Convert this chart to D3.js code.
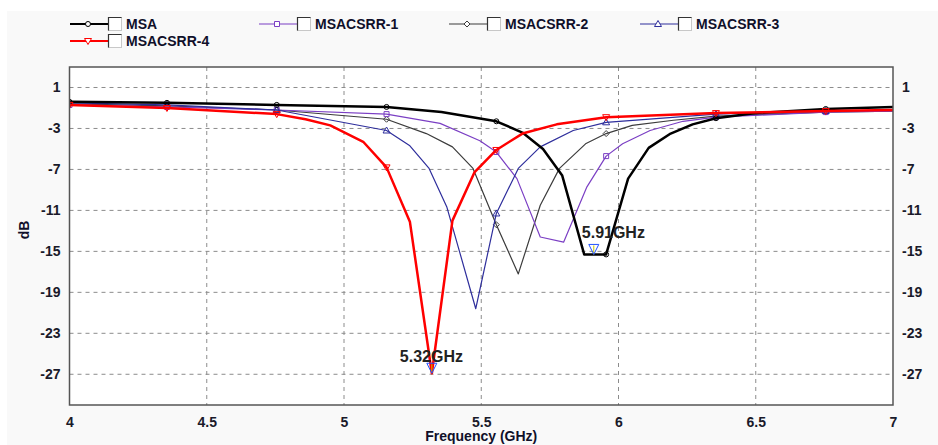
<!DOCTYPE html>
<html>
  <head>
    <meta charset="utf-8">
    <script src="https://d3js.org/d3.v7.min.js"></script>
    <style>
      body { margin: 0; background: #ffffff; }
      svg { font-family: "Liberation Sans", Arial, sans-serif; }
      .axis .tick line { display: none; }
      .axis .domain { display: none; }
      .axis .tick text { font-size: 14px; font-weight: bold; fill: #1a1a2a; }
      .grid line { stroke: #8c8c8c; stroke-dasharray: 4,4; stroke-width: 1px; }
      .legend text { font-size: 14px; font-weight: bold; fill: #10102a; }
      .axis__label { font-size: 14px; font-weight: bold; fill: #10102a; text-anchor: middle; }
      .marker__label { font-size: 16px; font-weight: bold; fill: #222; }
    </style>
  </head>
  <body>
    <svg width="938" height="445"></svg>
    <script>
      // series names
      const seriesNames = ["MSA", "MSACSRR-1", "MSACSRR-2", "MSACSRR-3", "MSACSRR-4"];

      // frequencies (GHz) and S11 (dB)
      const msaFreq = [4, 4.355, 4.755, 5.155, 5.355, 5.555, 5.65, 5.725, 5.795, 5.875, 5.955, 6.035, 6.11, 6.19, 6.27, 6.355, 6.5, 6.755, 7];
      const msaDb   = [-0.4, -0.5, -0.7, -0.9, -1.4, -2.3, -3.4, -5.0, -7.6, -15.3, -15.3, -7.9, -4.9, -3.5, -2.6, -2.0, -1.5, -1.1, -0.9];

      const csrr1Freq = [4, 4.355, 4.755, 5.155, 5.35, 5.495, 5.555, 5.63, 5.715, 5.8, 5.885, 5.955, 6.015, 6.115, 6.235, 6.355, 6.755, 7];
      const csrr1Db   = [-0.7, -0.9, -1.2, -1.6, -2.5, -4.2, -5.3, -7.9, -13.6, -14.1, -8.7, -5.7, -4.5, -3.2, -2.3, -1.9, -1.4, -1.3];

      const csrr2Freq = [4, 4.355, 4.755, 5.155, 5.3, 5.395, 5.47, 5.555, 5.635, 5.715, 5.785, 5.88, 5.955, 6.05, 6.2, 6.355, 6.755, 7];
      const csrr2Db   = [-0.6, -0.8, -1.2, -2.1, -3.5, -4.8, -6.9, -12.4, -17.2, -10.5, -6.9, -4.5, -3.5, -2.7, -2.2, -1.8, -1.4, -1.3];

      const csrr3Freq = [4, 4.355, 4.755, 5.155, 5.24, 5.31, 5.375, 5.48, 5.555, 5.635, 5.715, 5.835, 5.955, 6.355, 6.755, 7];
      const csrr3Db   = [-0.5, -0.7, -1.2, -3.2, -4.7, -6.9, -10.7, -20.6, -11.3, -6.9, -4.8, -3.2, -2.4, -1.6, -1.3, -1.2];

      const csrr4Freq = [4, 4.355, 4.755, 4.86, 4.95, 5.07, 5.155, 5.24, 5.32, 5.395, 5.475, 5.555, 5.65, 5.775, 5.955, 6.355, 6.755, 7];
      const csrr4Db   = [-0.7, -1.0, -1.6, -2.1, -2.7, -4.3, -6.8, -12.1, -26.9, -12.0, -7.3, -5.1, -3.5, -2.6, -1.9, -1.5, -1.3, -1.2];

      // where the symbols sit on every trace
      const markerFreqs = [4, 4.355, 4.755, 5.155, 5.555, 5.955, 6.355, 6.755];

      // axis ticks
      const xTicks = [4, 4.5, 5, 5.5, 6, 6.5, 7];
      const yTicks = [1, -3, -7, -11, -15, -19, -23, -27];

      // marker readouts: frequency, trace index, label
      const readoutFreqs = [5.91, 5.32];
      const readoutSeries = [0, 4];
      const readoutLabels = ["5.91GHz", "5.32GHz"];

      const series = [
        { name: seriesNames[0], freq: msaFreq, db: msaDb, color: "#000000", width: 2.5, symbol: "circle" },
        { name: seriesNames[1], freq: csrr1Freq, db: csrr1Db, color: "#7b3fc4", width: 1.2, symbol: "square" },
        { name: seriesNames[2], freq: csrr2Freq, db: csrr2Db, color: "#3c3c3c", width: 1.2, symbol: "diamond" },
        { name: seriesNames[3], freq: csrr3Freq, db: csrr3Db, color: "#2e2e9c", width: 1.2, symbol: "triangle" },
        { name: seriesNames[4], freq: csrr4Freq, db: csrr4Db, color: "#ff0000", width: 2.5, symbol: "triangleDown" }
      ];

      const svg = d3.select("svg");
      const margin = { top: 67, left: 69.5 };
      const width = +svg.attr("width"), height = +svg.attr("height");
      const innerWidth = 893 - margin.left;
      const innerHeight = 405 - margin.top;

      const xScale = d3.scaleLinear().domain([4, 7]).range([0, innerWidth]);
      const yScale = d3.scaleLinear().domain([-30, 3]).range([innerHeight, 0]);

      // panel background
      svg.append("rect")
        .attr("x", 7).attr("y", 11)
        .attr("width", width - 7).attr("height", height - 11)
        .attr("fill", "#f9f9f9");

      const g = svg.append("g")
        .attr("transform", `translate(${margin.left}, ${margin.top})`);

      g.append("rect")
        .attr("width", innerWidth).attr("height", innerHeight)
        .attr("fill", "#ffffff");

      g.append("clipPath").attr("id", "plot-clip")
        .append("rect").attr("width", innerWidth).attr("height", innerHeight);

      // grid
      const grid = g.append("g").attr("class", "grid");
      grid.selectAll(".vline").data(xTicks.slice(1, -1)).enter().append("line")
        .attr("x1", d => xScale(d)).attr("x2", d => xScale(d))
        .attr("y1", 0).attr("y2", innerHeight);
      grid.selectAll(".hline").data(yTicks).enter().append("line")
        .attr("x1", 0).attr("x2", innerWidth)
        .attr("y1", d => yScale(d)).attr("y2", d => yScale(d));

      // axes
      const plain = d => String(d);
      g.append("g").attr("class", "axis axis--x")
        .attr("transform", `translate(0, ${innerHeight})`)
        .call(d3.axisBottom(xScale).tickValues(xTicks).tickSize(0).tickPadding(12)
          .tickFormat(plain));
      g.append("g").attr("class", "axis axis--y")
        .call(d3.axisLeft(yScale).tickValues(yTicks).tickSize(0).tickPadding(9)
          .tickFormat(plain));
      g.append("g").attr("class", "axis axis--y2")
        .attr("transform", `translate(${innerWidth}, 0)`)
        .call(d3.axisRight(yScale).tickValues(yTicks).tickSize(0).tickPadding(9)
          .tickFormat(plain));

      g.append("text").attr("class", "axis__label")
        .attr("x", innerWidth / 2).attr("y", innerHeight + 36)
        .text("Frequency (GHz)");
      g.append("text").attr("class", "axis__label")
        .attr("transform", "rotate(-90)")
        .attr("x", -(230 - margin.top)).attr("y", -41)
        .text("dB");

      // traces
      const line = d3.line().x(d => xScale(d[0])).y(d => yScale(d[1]));
      const traces = g.append("g").attr("clip-path", "url(#plot-clip)");

      function symbolPath(type, x, y, r) {
        if (type === "circle") return `M${x - r},${y}a${r},${r} 0 1,0 ${2 * r},0a${r},${r} 0 1,0 ${-2 * r},0`;
        if (type === "square") return `M${x - r},${y - r}h${2 * r}v${2 * r}h${-2 * r}Z`;
        if (type === "diamond") return `M${x},${y - r - 0.5}L${x + r + 0.5},${y}L${x},${y + r + 0.5}L${x - r - 0.5},${y}Z`;
        if (type === "triangle") return `M${x},${y - r - 1}L${x + r + 1},${y + r}L${x - r - 1},${y + r}Z`;
        return `M${x - r - 1},${y - r}L${x + r + 1},${y - r}L${x},${y + r + 1}Z`;
      }

      // draw thin traces first, thick ones on top
      const order = [2, 1, 3, 0, 4];
      order.forEach(i => {
        const s = series[i];
        const pts = s.freq.map((f, k) => [f, s.db[k]]);
        traces.append("path")
          .datum(pts)
          .attr("fill", "none")
          .attr("stroke", s.color)
          .attr("stroke-width", s.width)
          .attr("stroke-linejoin", "round")
          .attr("d", line);
        traces.selectAll(null)
          .data(pts.filter(p => markerFreqs.includes(p[0])))
          .enter().append("path")
          .attr("fill", "none")
          .attr("stroke", s.color)
          .attr("stroke-width", 1)
          .attr("d", p => symbolPath(s.symbol, xScale(p[0]), yScale(p[1]), 2.5));
      });

      // readout markers
      readoutFreqs.forEach((f, k) => {
        const s = series[readoutSeries[k]];
        const x = xScale(f);
        const y = yScale(d3.scaleLinear().domain(s.freq).range(s.db)(f));
        traces.append("line")
          .attr("x1", x).attr("x2", x).attr("y1", y - 9).attr("y2", y)
          .attr("stroke", "#c8c800").attr("stroke-width", 1);
        traces.append("path")
          .attr("d", `M${x - 5},${y - 10}L${x + 5},${y - 10}L${x},${y}Z`)
          .attr("fill", "none").attr("stroke", "#2050ff").attr("stroke-width", 1);
        g.append("text").attr("class", "marker__label")
          .attr("x", x + (k === 0 ? -12 : -32))
          .attr("y", y + (k === 0 ? -16 : -11))
          .text(readoutLabels[k]);
      });

      // frame
      g.append("rect")
        .attr("width", innerWidth).attr("height", innerHeight)
        .attr("fill", "none").attr("stroke", "#555555").attr("stroke-width", 1.5);

      // legend
      const legendPos = [[70, 24], [259, 24], [449, 24], [640, 24], [70, 41]];
      const legend = svg.append("g").attr("class", "legend");
      series.forEach((s, i) => {
        const [lx, ly] = legendPos[i];
        const item = legend.append("g").attr("transform", `translate(${lx}, ${ly})`);
        item.append("line")
          .attr("x1", 0).attr("x2", 38).attr("y1", 0).attr("y2", 0)
          .attr("stroke", s.color).attr("stroke-width", i === 0 || i === 4 ? 2 : 1.2);
        item.append("path")
          .attr("d", symbolPath(s.symbol, 18, 0, 2.5))
          .attr("fill", "#ffffff").attr("stroke", s.color).attr("stroke-width", 1);
        item.append("rect")
          .attr("x", 38.5).attr("y", -6.5).attr("width", 13).attr("height", 13)
          .attr("fill", "#ffffff").attr("stroke", "#c8c8c8");
        item.append("path")
          .attr("d", "M38.5,6.5V-6.5H51.5")
          .attr("fill", "none").attr("stroke", "#333333").attr("stroke-width", 1.2);
        item.append("text")
          .attr("x", 56).attr("y", 5)
          .text(s.name);
      });
    </script>
  </body>
</html>
